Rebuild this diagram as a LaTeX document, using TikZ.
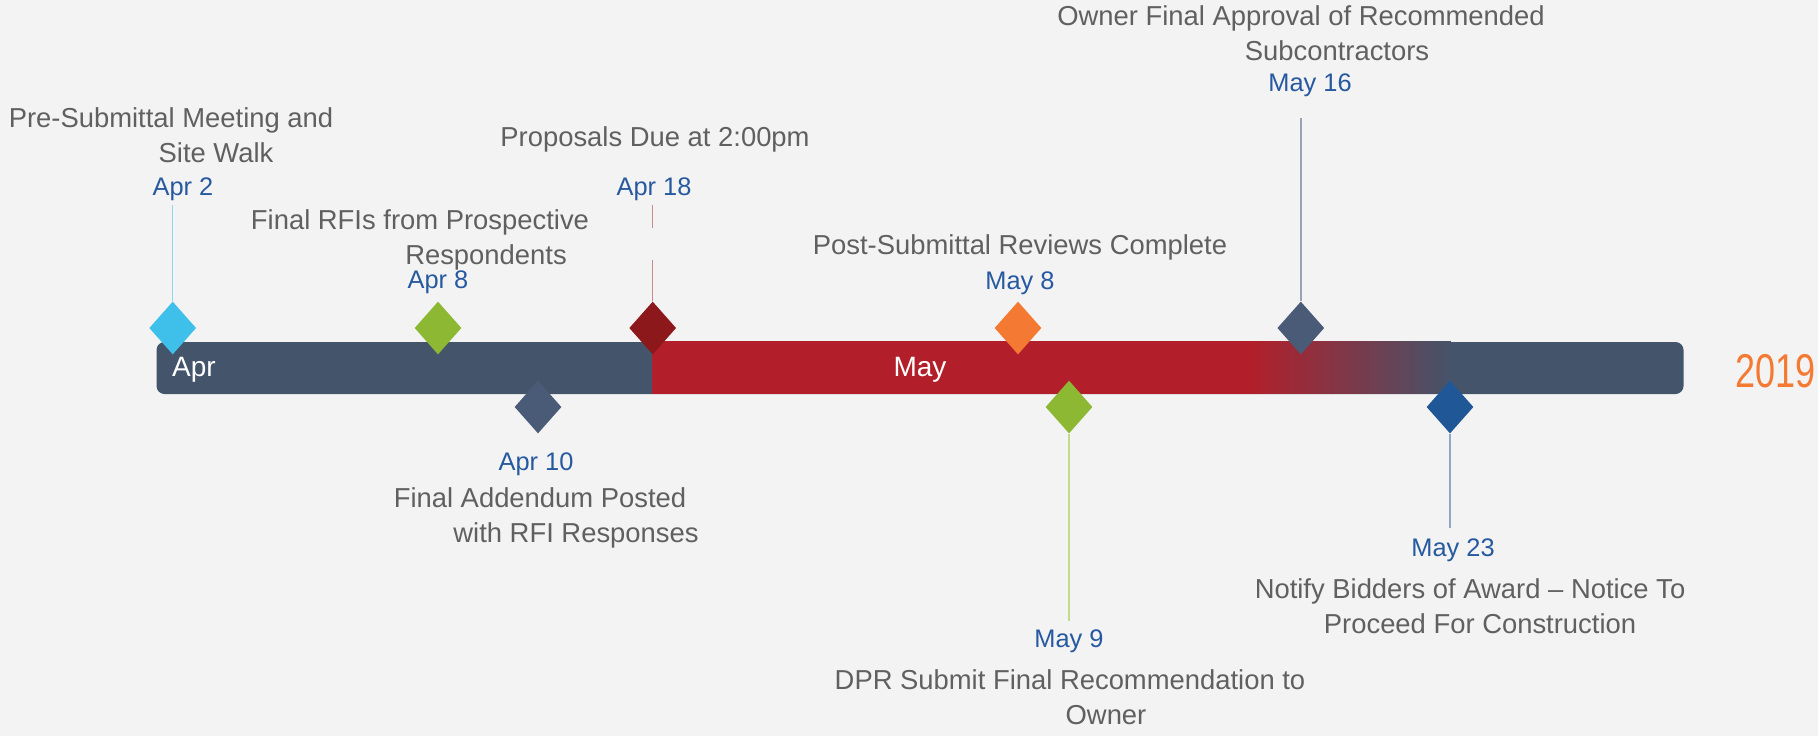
\documentclass[tikz,border=0pt]{standalone}
\usepackage{fontspec}
\setmainfont{Liberation Sans}
\usetikzlibrary{shapes.geometric}

\definecolor{bgcol}{HTML}{F3F3F3}
\definecolor{slate}{HTML}{44546A}
\definecolor{slatemark}{HTML}{4A5B78}
\definecolor{barred}{HTML}{B21F2B}
\definecolor{darkred}{HTML}{8C181C}
\definecolor{cyanmark}{HTML}{3EC0EB}
\definecolor{greenmark}{HTML}{8CB833}
\definecolor{orangemark}{HTML}{F47A33}
\definecolor{bluemark}{HTML}{1F5797}
\definecolor{labelgray}{HTML}{606060}
\definecolor{dateblue}{HTML}{2659A0}
\definecolor{cyanline}{HTML}{8FD6F0}
\definecolor{redline}{HTML}{C98A8D}
\definecolor{greenline}{HTML}{C3DB8E}
\definecolor{grayline}{HTML}{9AA3B5}
\definecolor{blueline}{HTML}{8FA8C8}

\begin{document}
\begin{tikzpicture}[x=0.5pt,y=-0.5pt,
	mark node/.style = {diamond, inner sep=0pt, minimum width=23.5pt, minimum height=26.5pt},
	date label/.style = {text=dateblue, font=\fontsize{12.7}{15}\selectfont, inner sep=2pt},
	event label/.style = {text=labelgray, font=\fontsize{13.7}{17.5}\selectfont, align=center, inner sep=0pt},
	bar label/.style = {text=white, font=\fontsize{14}{16}\selectfont, inner sep=0pt},
	stem/.style = {line width=0.75pt}]

	\useasboundingbox (0,0) rectangle (1818,736);
	\fill[bgcol] (0,0) rectangle (1818,736);

	% the month bar
	\fill[slate, rounded corners=4pt] (156.5,342) rectangle (1683.5,394);
	\fill[barred] (651.6,341) rectangle (1251,393.5);
	\foreach \i in {0,...,39}
		\fill[barred!\fpeval{100-\i*2.5}!slate] ({1250+\i*5},341) rectangle ({1256+\i*5},393.5);
	\node[bar label] (apr) at (194,370) {Apr};
	\node[bar label] (may) at (920,370) {May};
	\node[text=orangemark, font=\fontsize{23.7}{26}\selectfont, anchor=east, inner sep=0pt] (year) at (1816,371) {\scalebox{0.76}[1]{2019}};

	% dates
	\node[date label] (d1) at (183,189) {Apr 2};
	\node[date label] (d2) at (438,282) {Apr 8};
	\node[date label] (d3) at (536,464) {Apr 10};
	\node[date label] (d4) at (654,189) {Apr 18};
	\node[date label] (d5) at (1020,283) {May 8};
	\node[date label] (d6) at (1069,641) {May 9};
	\node[date label] (d7) at (1310,85) {May 16};
	\node[date label] (d8) at (1453,550) {May 23};

	% events
	\node[event label] (e1) at (193.5,135) {Pre-Submittal Meeting and\hspace*{22.5pt}\\\hspace*{22.5pt}Site Walk};
	\node[event label] (e2) at (453,240) {Final RFIs from Prospective\hspace*{33pt}\\\hspace*{33pt}Respondents};
	\node[event label] (e3) at (655,139) {Proposals Due at 2:00pm};
	\node[event label] (e4) at (1020,247) {Post-Submittal Reviews Complete};
	\node[event label] (e5) at (1319,33.5) {Owner Final Approval of Recommended\hspace*{18pt}\\\hspace*{18pt}Subcontractors};
	\node[event label] (e6) at (558,518) {Final Addendum Posted\hspace*{18pt}\\\hspace*{18pt}with RFI Responses};
	\node[event label] (e7) at (1475,606) {Notify Bidders of Award – Notice To\hspace*{5pt}\\\hspace*{5pt}Proceed For Construction};
	\node[event label] (e8) at (1088,697) {DPR Submit Final Recommendation to\hspace*{18pt}\\\hspace*{18pt}Owner};

	% markers
	\node[mark node, fill=cyanmark] (m1) at (172.7,328) {};
	\node[mark node, fill=greenmark] (m2) at (438,328) {};
	\node[mark node, fill=slatemark] (m3) at (538,407) {};
	\node[mark node, fill=darkred] (m4) at (652.7,328) {};
	\node[mark node, fill=orangemark] (m5) at (1018,328) {};
	\node[mark node, fill=greenmark] (m6) at (1069,407) {};
	\node[mark node, fill=slatemark] (m7) at (1300.8,328) {};
	\node[mark node, fill=bluemark] (m8) at (1450,407) {};

	% stems
	\coordinate (gap1) at (652.7,228);
	\coordinate (gap2) at (652.7,260);
	\draw[stem, cyanline] (m1.north) -- (m1.north |- d1.south);
	\draw[stem, redline] (m4.north) -- (gap2);
	\draw[stem, redline] (gap1) -- (gap1 |- d4.south);
	\draw[stem, greenline, shorten >=2pt] (m6.south) -- (m6.south |- d6.north);
	\draw[stem, grayline, shorten >=8.5pt] (m7.north) -- (m7.north |- d7.south);
	\draw[stem, blueline, shorten >=3pt] (m8.south) -- (m8.south |- d8.north);

\end{tikzpicture}
\end{document}
